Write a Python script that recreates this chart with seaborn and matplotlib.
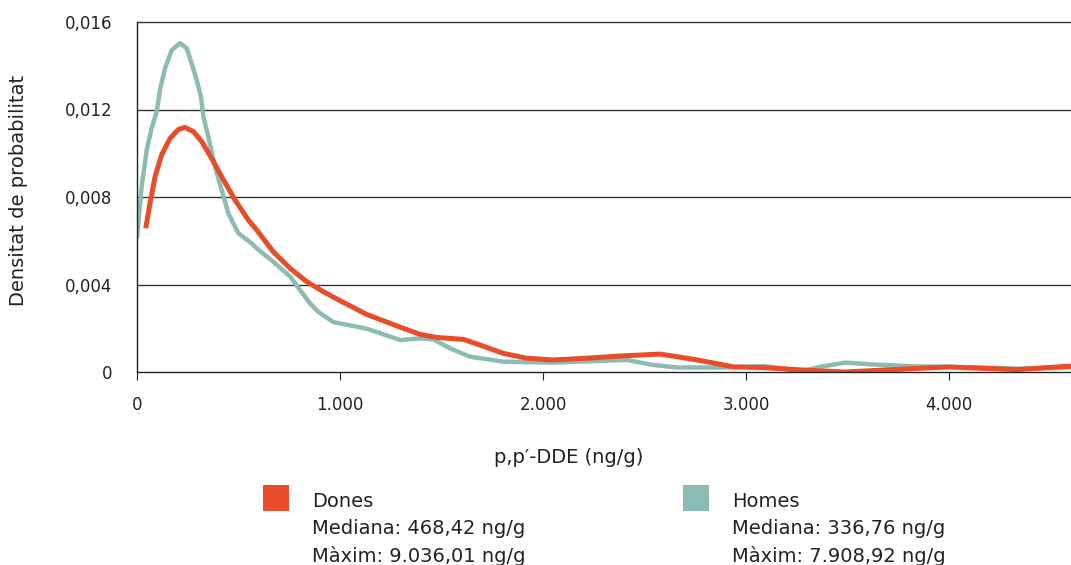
import numpy as np
import pandas as pd
import seaborn as sns
import matplotlib.pyplot as plt
from matplotlib.patches import Rectangle

# Density curves of p,p'-DDE (ng/g) by sex
homes_x = [0, 23, 48, 72, 97, 113, 138, 171, 212, 245, 269, 294, 315, 327, 351,
           384, 417, 450, 499, 565, 590, 671, 754, 803, 852, 893, 967, 1132, 1296,
           1394, 1460, 1542, 1640, 1805, 2051, 2248, 2412, 2543, 2659, 2877, 3088,
           3193, 3267, 3362, 3488, 3615, 3826, 4036, 4353, 4600]
homes_y = [0.00611, 0.00847, 0.01015, 0.01114, 0.0119, 0.01289, 0.01388, 0.01472,
           0.01503, 0.0148, 0.01411, 0.01335, 0.01259, 0.01167, 0.01076, 0.00939,
           0.00832, 0.00725, 0.00634, 0.00588, 0.00565, 0.00504, 0.00436, 0.00375,
           0.00314, 0.00275, 0.00228, 0.00198, 0.00146, 0.00154, 0.00149, 0.00108,
           0.0007, 0.00047, 0.00043, 0.0005, 0.00055, 0.00032, 0.00021, 0.0002,
           0.00027, 0.00015, 0.00002, 0.00023, 0.00043, 0.00035, 0.00026, 0.00023,
           0.00015, 0.0002]

dones_x = [43, 64, 89, 121, 163, 204, 236, 278, 319, 368, 417, 483, 548, 590, 671,
           754, 836, 918, 1000, 1074, 1132, 1296, 1394, 1476, 1608, 1690, 1805,
           1920, 2051, 2215, 2379, 2576, 2659, 2772, 2940, 3088, 3298, 3488, 3720,
           3994, 4331, 4600]
dones_y = [0.00657, 0.00771, 0.00893, 0.00992, 0.01068, 0.01109, 0.01118, 0.01099,
           0.01053, 0.00976, 0.00893, 0.00786, 0.00695, 0.00649, 0.0055, 0.00474,
           0.00413, 0.00367, 0.00326, 0.00291, 0.00263, 0.00205, 0.00172, 0.00158,
           0.00149, 0.00123, 0.00085, 0.00063, 0.00055, 0.00063, 0.00073, 0.00082,
           0.0007, 0.00053, 0.00023, 0.0002, 0.00008, 0.0, 0.00011, 0.00023,
           0.00011, 0.00027]

groups = ["Dones", "Homes"]
medianes = ["468,42", "336,76"]
maxims = ["9.036,01", "7.908,92"]

x_ticks = [0, 1000, 2000, 3000, 4000]
x_tick_labels = ["0", "1.000", "2.000", "3.000", "4.000"]
y_ticks = [0, 0.004, 0.008, 0.012, 0.016]
y_tick_labels = ["0", "0,004", "0,008", "0,012", "0,016"]

colors = {"Dones": "#E84C2B", "Homes": "#8BBBB3"}
text_color = "#222222"

sns.set_theme(style="white")
plt.rcParams["font.family"] = ["DejaVu Sans"]

df = pd.concat([
    pd.DataFrame({"x": homes_x, "y": homes_y, "sexe": "Homes"}),
    pd.DataFrame({"x": dones_x, "y": dones_y, "sexe": "Dones"}),
], ignore_index=True)

W, H = 1071, 565
fig = plt.figure(figsize=(W / 100, H / 100), dpi=100)
ax = fig.add_axes([137 / W, (H - 372) / H, 934 / W, 350 / H])

sns.lineplot(data=df[df.sexe == "Homes"], x="x", y="y", color=colors["Homes"],
             linewidth=3.2, estimator=None, sort=True, ax=ax)
sns.lineplot(data=df[df.sexe == "Dones"], x="x", y="y", color=colors["Dones"],
             linewidth=3.6, estimator=None, sort=True, ax=ax)
for ln in ax.lines:
    ln.set_solid_joinstyle("round")
    ln.set_solid_capstyle("butt")

ax.set_xlim(0, 4600)
ax.set_ylim(0, 0.016)

ax.set_yticks(y_ticks)
ax.set_yticklabels(y_tick_labels)
ax.set_xticks(x_ticks)
ax.set_xticklabels(x_tick_labels)

for yv in y_ticks[1:]:
    ax.axhline(yv, color="#333333", lw=1.0, zorder=0.5, clip_on=False)

for side in ["top", "right"]:
    ax.spines[side].set_visible(False)
for side in ["left", "bottom"]:
    ax.spines[side].set_color("#222222")
    ax.spines[side].set_linewidth(1.0)

ax.tick_params(axis="y", length=0, pad=18, labelsize=12, labelcolor=text_color)
ax.tick_params(axis="x", direction="out", length=6, width=0.8, color="#222222",
               pad=11.5, labelsize=12, labelcolor=text_color, bottom=True)

ax.set_xlabel("p,p\u2032-DDE (ng/g)", fontsize=14, color=text_color)
ax.xaxis.set_label_coords((569 - 137) / 934, (372 - 448) / 350)
ax.set_ylabel("Densitat de probabilitat", fontsize=14, color=text_color)
ax.yaxis.set_label_coords((28 - 137) / 934, (372 - 190) / 350)

# Legend block below the plot
for grp, med, mx, sq_x, tx_x in zip(groups, medianes, maxims, [263, 683], [312, 732]):
    fig.add_artist(Rectangle((sq_x / W, 1 - 511 / H), 26 / W, 26 / H,
                             transform=fig.transFigure, color=colors[grp], lw=0))
    lines = [grp, f"Mediana: {med} ng/g", f"M\u00e0xim: {mx} ng/g"]
    for txt, base in zip(lines, [507, 534.5, 561.5]):
        fig.text(tx_x / W, 1 - base / H, txt, fontsize=14, color=text_color,
                 ha="left", va="baseline")

fig.savefig("out.png", dpi=100)
